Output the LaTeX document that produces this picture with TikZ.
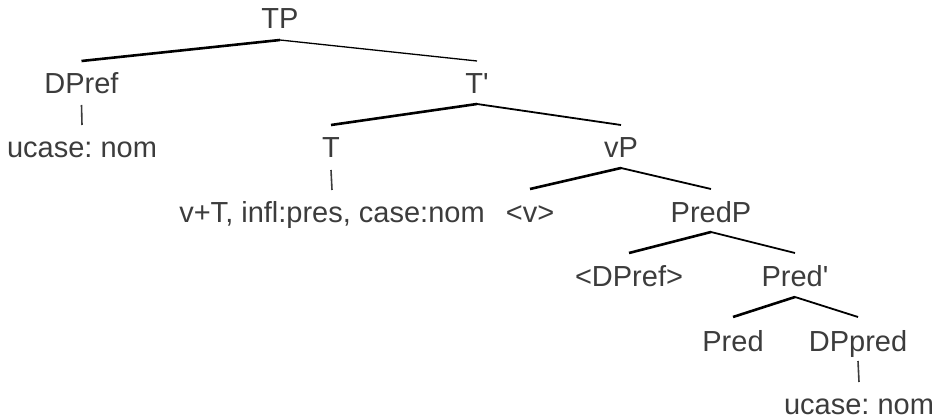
\documentclass[tikz,border=0pt]{standalone}
\usepackage{fontspec}
\setmainfont{Liberation Sans}[Ligatures=TeXOff]
\definecolor{txt}{RGB}{60,60,60}
\begin{document}
\begin{tikzpicture}[x=1pt,y=-1pt,
  lbl/.style={anchor=base,inner sep=0pt,text=txt,font=\fontsize{29}{34}\selectfont\frenchspacing},
  lbranch/.style={draw=black,line width=2.6pt},
  rbranch/.style={draw=black,line width=1.8pt},
  rthin/.style={draw=black,line width=1.3pt},
  vline/.style={draw=txt,line width=1.6pt}]
\useasboundingbox (0,0) rectangle (941,419);
% level baselines: 29, 93.5, 158, 222.5, 287, 351, 414
\node[lbl] (TP) at (280,29) {TP};
\node[lbl] (DPref) at (81.5,93.5) {DPref};
\node[lbl] (Tbar) at (477,93.5) {T'};
\node[lbl] (ucA) at (82,158) {ucase: nom};
\node[lbl] (T) at (331,158) {T};
\node[lbl] (vP) at (621,158) {vP};
\node[lbl] (vT) at (332,222.5) {v+T, infl:pres, case:nom};
\node[lbl] (v) at (530,222.5) {<v>};
\node[lbl] (PredP) at (711,222.5) {PredP};
\node[lbl] (DPrefT) at (629,287) {<DPref>};
\node[lbl] (Predbar) at (795,287) {Pred'};
\node[lbl] (Pred) at (733,351) {Pred};
\node[lbl] (DPpred) at (858,351) {DPpred};
\node[lbl] (ucB) at (859,414) {ucase: nom};
% branches
\draw[lbranch] ([yshift=-11pt]TP.base) -- ([yshift=32.5pt]DPref.base);
\draw[rthin] ([yshift=-11pt]TP.base) -- ([yshift=32.5pt]Tbar.base);
\draw[lbranch] ([yshift=-10.5pt]Tbar.base) -- ([yshift=33pt]T.base);
\draw[rbranch] ([yshift=-10.5pt]Tbar.base) -- ([yshift=33pt]vP.base);
\draw[lbranch] ([yshift=-10pt]vP.base) -- ([yshift=33.5pt]v.base);
\draw[rbranch] ([yshift=-10pt]vP.base) -- ([yshift=33.5pt]PredP.base);
\draw[lbranch] ([yshift=-9.5pt]PredP.base) -- ([yshift=34pt]DPrefT.base);
\draw[rbranch] ([yshift=-9.5pt]PredP.base) -- ([yshift=34pt]Predbar.base);
\draw[lbranch] ([yshift=-10pt]Predbar.base) -- ([yshift=34pt]Pred.base);
\draw[rbranch] ([yshift=-10pt]Predbar.base) -- ([yshift=34pt]DPpred.base);
% unary lines
\draw[vline] ([yshift=-11.5pt]DPref.base) -- ([yshift=33pt]ucA.base);
\draw[vline] ([yshift=-12pt]T.base) -- ([yshift=32.5pt]vT.base);
\draw[vline] ([yshift=-10pt]DPpred.base) -- ([yshift=32pt]ucB.base);
\end{tikzpicture}
\end{document}
